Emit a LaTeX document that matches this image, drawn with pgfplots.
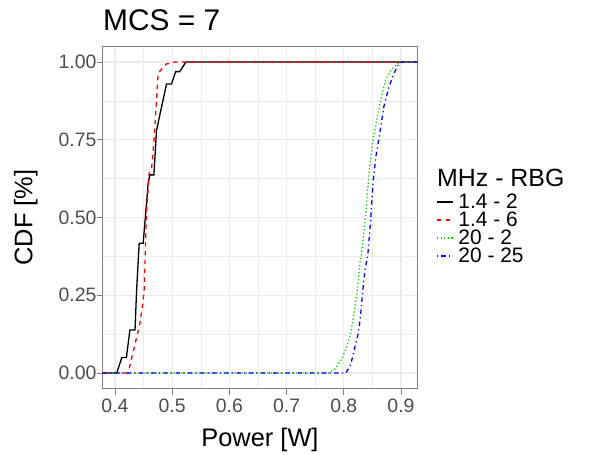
\documentclass[border=0pt]{standalone}
\usepackage{fontspec}
\setmainfont{Liberation Sans}
\usepackage{pgfplots}
\pgfplotsset{compat=1.18}
\definecolor{gridgray}{RGB}{235,235,235}
\definecolor{ticktext}{RGB}{77,77,77}
\definecolor{border}{RGB}{127,127,127}
\definecolor{ggreen}{RGB}{0,205,0}
\tikzset{
    s1/.style={black, line width=1.3bp},
    s2/.style={red, line width=1.3bp, dash pattern=on 4.4bp off 4.4bp},
    s3/.style={ggreen, line width=1.3bp, dash pattern=on 1.2bp off 2.4bp},
    s4/.style={blue, line width=1.3bp, dash pattern=on 1.2bp off 3.3bp on 4.4bp off 3.3bp},
    legtext/.style={anchor=base west, inner sep=0pt, font=\fontsize{21}{21}\selectfont},
}
\begin{document}
\begin{tikzpicture}
\path[use as bounding box] (-102.7bp,-66.45bp) rectangle (490.3bp,388.55bp);
\begin{axis}[
    at={(0,0)}, anchor=south west,
    scale only axis,
    width=314.6bp, height=342.1bp,
    xmin=0.3785, xmax=0.9285,
    ymin=-0.05, ymax=1.05,
    clip mode=individual,
    xtick={0.4,0.5,0.6,0.7,0.8,0.9},
    xticklabels={0.4,0.5,0.6,0.7,0.8,0.9},
    minor xtick={0.45,0.55,0.65,0.75,0.85},
    ytick={0,0.25,0.5,0.75,1},
    yticklabels={0.00,0.25,0.50,0.75,1.00},
    minor ytick={0.125,0.375,0.625,0.875},
    grid=both,
    major grid style={draw=gridgray, line width=1.1bp},
    minor grid style={draw=gridgray, line width=0.55bp},
    tick align=outside, tick pos=left,
    major tick length=6bp, minor tick length=0pt,
    every tick/.append style={draw=border, line width=0.8bp},
    axis line style={draw=border, line width=0.8bp},
    /pgf/number format/assume math mode=true,
    ticklabel style={font=\fontsize{19.5}{19.5}\selectfont, text=ticktext, inner sep=0pt},
    yticklabel style={anchor=east},
    xticklabel style={anchor=north, yshift=-4.5bp},
    xlabel={Power [W]},
    xlabel style={at={(axis description cs:0.5,-0.170)}, anchor=base, font=\fontsize{25.5}{25.5}\selectfont, inner sep=0pt},
    ylabel={CDF [\%]},
    ylabel style={at={(axis description cs:-0.2236,0.5)}, anchor=base, font=\fontsize{25.5}{25.5}\selectfont, inner sep=0pt},
]
% 1.4 MHz - 2 RBG
\addplot[s1] coordinates {
    (0.37,0) (0.403,0) (0.412,0.05) (0.420,0.05) (0.426,0.138) (0.435,0.138)
    (0.4378,0.267) (0.4423,0.417) (0.4493,0.417) (0.458,0.61) (0.461,0.637)
    (0.468,0.637) (0.4726,0.78) (0.490,0.929) (0.4988,0.929) (0.506,0.969)
    (0.513,0.969) (0.524,1) (0.93,1)
};
% 1.4 MHz - 6 RBG
\addplot[s2] coordinates {
    (0.37,0) (0.423,0) (0.4436,0.16) (0.449,0.229) (0.451,0.267) (0.455,0.514)
    (0.4598,0.642) (0.464,0.658) (0.4685,0.755) (0.4755,0.964) (0.490,0.994)
    (0.5045,1) (0.93,1)
};
% 20 MHz - 2 RBG
\addplot[s3] coordinates {
    (0.37,0) (0.775,0) (0.786,0.015) (0.798,0.052) (0.806,0.09) (0.812,0.128)
    (0.818,0.192) (0.822,0.245) (0.8256,0.299) (0.828,0.353) (0.831,0.385)
    (0.8385,0.514) (0.844,0.642) (0.850,0.738) (0.853,0.77) (0.8646,0.878)
    (0.873,0.942) (0.882,0.974) (0.8965,0.998) (0.900,1) (0.93,1)
};
% 20 MHz - 25 RBG
\addplot[s4] coordinates {
    (0.37,0) (0.8036,0) (0.812,0.026) (0.818,0.074) (0.824,0.117) (0.827,0.149)
    (0.830,0.197) (0.8326,0.256) (0.837,0.331) (0.842,0.38) (0.847,0.492)
    (0.851,0.61) (0.856,0.695) (0.862,0.76) (0.870,0.856) (0.879,0.92)
    (0.8878,0.964) (0.895,0.99) (0.899,0.998) (0.901,1) (0.93,1)
};
% title
\node[anchor=base west, inner sep=0pt, font=\fontsize{30}{30}\selectfont] at (axis description cs:0.001,1.048) {MCS = 7};
% legend
\node[anchor=base west, inner sep=0pt, font=\fontsize{25}{25}\selectfont] at (axis description cs:1.0626,0.5892) {MHz - RBG};
\draw[s1, line width=1.7bp] (axis description cs:1.0626,0.5462) -- (axis description cs:1.1135,0.5462);
\draw[s2, line width=1.7bp] (axis description cs:1.0626,0.4933) -- (axis description cs:1.1135,0.4933);
\draw[s3, line width=1.7bp] (axis description cs:1.0626,0.4404) -- (axis description cs:1.1135,0.4404);
\draw[s4, line width=1.7bp] (axis description cs:1.0626,0.3875) -- (axis description cs:1.1135,0.3875);
\node[legtext] at (axis description cs:1.1303,0.5269) {1.4 - 2};
\node[legtext] at (axis description cs:1.1303,0.4740) {1.4 - 6};
\node[legtext] at (axis description cs:1.1303,0.4211) {20 - 2};
\node[legtext] at (axis description cs:1.1303,0.3682) {20 - 25};
\end{axis}
\end{tikzpicture}
\end{document}
